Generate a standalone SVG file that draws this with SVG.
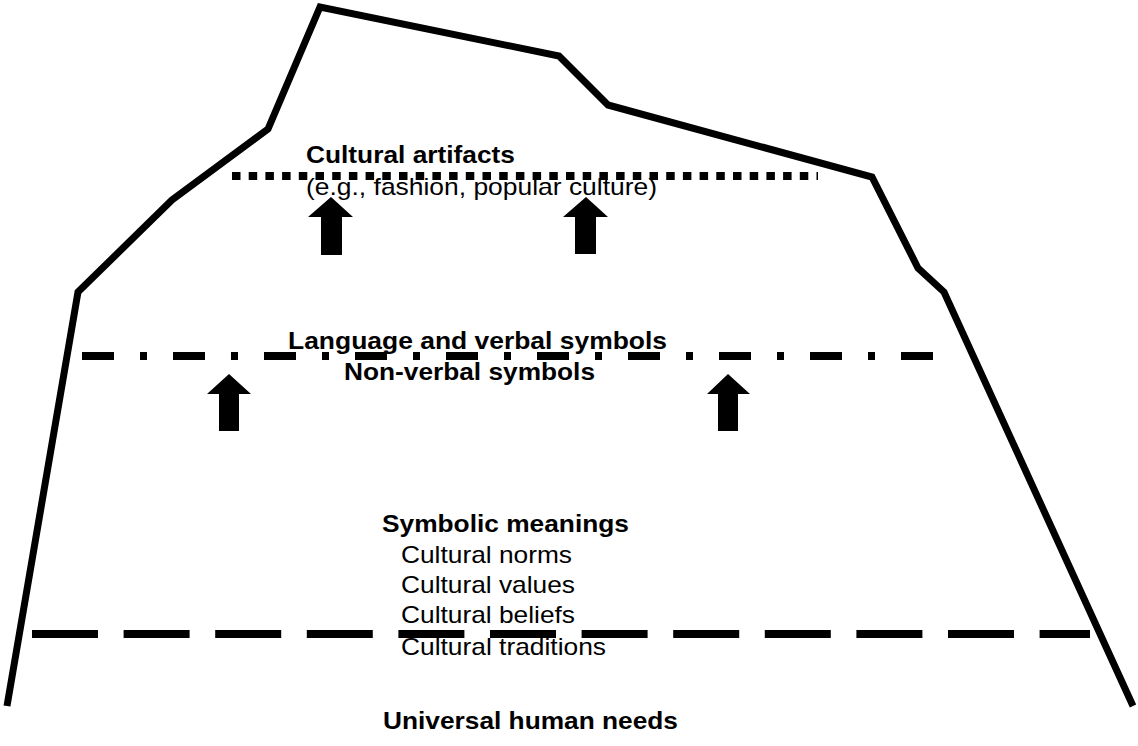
<svg xmlns="http://www.w3.org/2000/svg" width="1138" height="746" viewBox="0 0 1138 746">
<style>
.outline{fill:none;stroke:#000;stroke-width:7;stroke-linejoin:miter;stroke-linecap:butt}
.lvl{fill:none;stroke:#000;stroke-width:8;stroke-linecap:butt}
.arrow{fill:#000}
text{font-family:"Liberation Sans",Arial,sans-serif;font-size:24px;fill:#000}
.b{font-weight:bold}
</style>
<rect width="1138" height="746" fill="#fff"/>
<g id="outline">
<polyline class="outline" points="7,706 78,292 172,200 268,129 320,7 559,56 608,105 872,177 918,268 944,292 1133,706"/>
</g>
<g id="connectors">
<line class="lvl" x1="232" y1="176" x2="818" y2="176" stroke-dasharray="8.5 8.2"/>
<line class="lvl" x1="82" y1="356" x2="933" y2="356" stroke-dasharray="32 26 7 26"/>
<line class="lvl" x1="32" y1="634" x2="1090" y2="634" stroke-dasharray="66 25.6"/>
<polygon class="arrow" points="331,197 353,217 342,217 342,255 321,255 321,217 308,217"/>
<polygon class="arrow" points="586,197 608,217 596,217 596,254 575,254 575,217 563,217"/>
<polygon class="arrow" points="229,374 251,394 239,394 239,431 219,431 219,394 207,394"/>
<polygon class="arrow" points="728,374 750,394 738,394 738,431 718,431 718,394 707,394"/>
</g>
<g id="artifacts">
<text class="b" x="306" y="163" textLength="209" lengthAdjust="spacingAndGlyphs">Cultural artifacts</text>
<text x="306" y="195" textLength="351" lengthAdjust="spacingAndGlyphs">(e.g., fashion, popular culture)</text>
</g>
<g id="symbols">
<text class="b" x="288" y="349" textLength="379" lengthAdjust="spacingAndGlyphs">Language and verbal symbols</text>
<text class="b" x="344" y="380" textLength="251" lengthAdjust="spacingAndGlyphs">Non-verbal symbols</text>
</g>
<g id="meanings">
<text class="b" x="382" y="532" textLength="247" lengthAdjust="spacingAndGlyphs">Symbolic meanings</text>
<text x="401" y="563" textLength="171" lengthAdjust="spacingAndGlyphs">Cultural norms</text>
<text x="401" y="593" textLength="174" lengthAdjust="spacingAndGlyphs">Cultural values</text>
<text x="401" y="623" textLength="174" lengthAdjust="spacingAndGlyphs">Cultural beliefs</text>
<text x="401" y="655" textLength="205" lengthAdjust="spacingAndGlyphs">Cultural traditions</text>
</g>
<g id="needs">
<text class="b" x="383" y="729" textLength="295" lengthAdjust="spacingAndGlyphs">Universal human needs</text>
</g>
</svg>
